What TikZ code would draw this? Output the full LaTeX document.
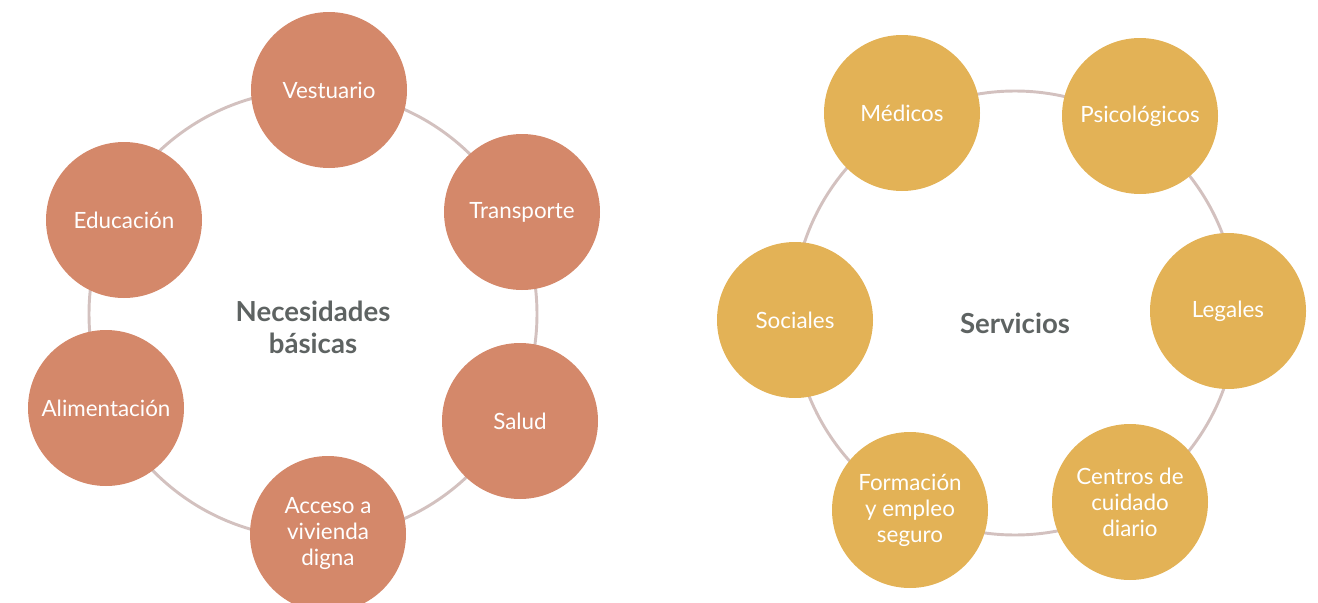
\documentclass[tikz,border=0pt]{standalone}
\usepackage{fontspec}
\setmainfont{Lato}
\usepackage{xcolor}
\usepackage{tikz}
\definecolor{terracota}{HTML}{D4886A}
\definecolor{ocre}{HTML}{E3B256}
\definecolor{anillo}{HTML}{D3C1BF}
\definecolor{gristexto}{HTML}{5E6362}
\tikzstyle{ring} = [draw=anillo, line width=2.2pt]
\tikzstyle{bubble} = [circle, minimum size=117pt, inner sep=0pt, align=center, text=white, font=\fontsize{16.8}{19.5}\selectfont]
\tikzstyle{need} = [bubble, fill=terracota]
\tikzstyle{serv} = [bubble, fill=ocre]
\tikzstyle{title} = [align=center, text=gristexto, font=\fontsize{20.7}{24}\selectfont\bfseries]

\begin{document}
\begin{tikzpicture}[x=0.75pt, y=-0.75pt]
	\useasboundingbox (0,0) rectangle (1318,603);
	%Necesidades basicas
	\node[title] (necesidades) at (313,327) {Necesidades\\básicas};
	\draw[ring] (313,314) circle (224);
	\node[need] (vestuario) at (329,90) {Vestuario};
	\node[need] (transporte) at (522,212) {Transporte};
	\node[need] (salud) at (520,421) {Salud};
	\node[need] (vivienda) at (328,534) {Acceso a\\vivienda\\digna};
	\node[need] (alimentacion) at (106,408) {Alimentación};
	\node[need] (educacion) at (124,220) {Educación};

	%Servicios
	\node[title] (servicios) at (1015,323) {Servicios};
	\draw[ring] (1015,313) circle (222);
	\node[serv] (medicos) at (902,113) {Médicos};
	\node[serv] (psicologicos) at (1140,116) {Psicológicos};
	\node[serv] (legales) at (1228,311) {Legales};
	\node[serv] (centros) at (1130,502) {Centros de\\cuidado\\diario};
	\node[serv] (formacion) at (910,510) {Formación\\y empleo\\seguro};
	\node[serv] (sociales) at (795,320) {Sociales};

\end{tikzpicture}
\end{document}
